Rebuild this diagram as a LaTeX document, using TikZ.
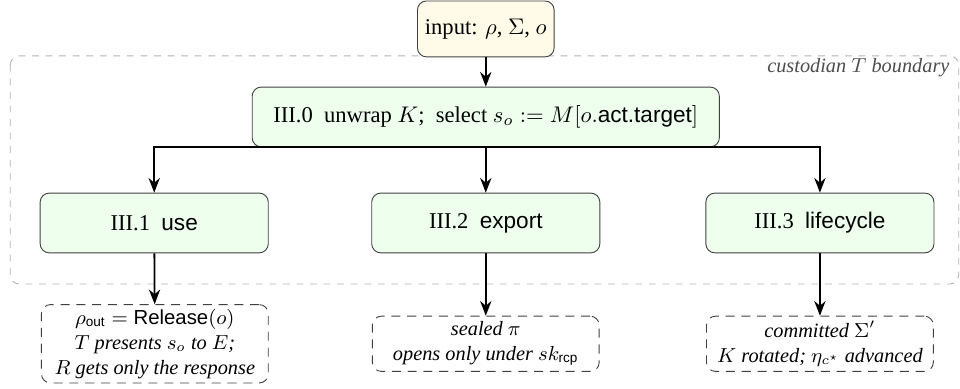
\documentclass[tikz,border=0pt]{standalone}
\usepackage[no-math]{fontspec}
\setmainfont{Liberation Serif}
\setsansfont{Liberation Sans}
\usepackage{amsmath}
\usepackage{amssymb}
\usepackage[usenames]{xcolor}
\usepackage{tikz}
\usetikzlibrary{positioning}
\usetikzlibrary{arrows.meta}
\definecolor{input_fill}{HTML}{FFFBE8}
\definecolor{step_fill}{HTML}{EEFFEE}
\newcommand{\upsf}[1]{\textup{\textsf{#1}}}
\tikzset{my_flow/.style={-{Stealth[length=6.5pt,width=5pt]},thick}}
\tikzset{input_box/.style={draw=black!75, fill=input_fill, rounded corners=4pt, minimum height=0.87cm, inner sep=3.3pt}}
\tikzset{step_box/.style={draw=black!75, fill=step_fill, rounded corners=4pt, minimum height=0.93cm}}
\tikzset{outcome_box/.style={draw=black!75, dash pattern=on 4pt off 3pt, rounded corners=4pt, minimum width=3.53cm, align=center, font=\small\itshape, inner sep=2pt}}
\tikzset{boundary_box/.style={draw=black!30, dash pattern=on 3pt off 3pt, rounded corners=4pt}}

\begin{document}
\begin{tikzpicture}
    \useasboundingbox (0,0) rectangle (14.94,-6.05);
    %\draw[help lines] (0,0) grid (15,-6);
    \draw[boundary_box] (0.16,-0.87) rectangle (14.92,-4.42);
    \node[anchor=east, text=black!70, font=\small\itshape] (bound) at (14.90,-1.06) {custodian $T$ boundary};

    \node[input_box] (in) at (7.56,-0.45) {input: $\rho$, $\Sigma$, $o$};
    \node[step_box, minimum width=7.27cm] (s0) at (7.56,-1.82)
        {III.0\enspace unwrap $K$;\enspace select $s_o := M[o.\upsf{act.target}]$};
    \node[step_box, minimum width=3.55cm] (s1) at (2.40,-3.47) {III.1\enspace\textsf{use}};
    \node[step_box, minimum width=3.55cm] (s2) at (7.56,-3.47) {III.2\enspace\textsf{export}};
    \node[step_box, minimum width=3.55cm] (s3) at (12.76,-3.47) {III.3\enspace\textsf{lifecycle}};

    \node[outcome_box, minimum height=1.2cm] (o1) at (2.41,-5.35)
        {\upshape$\rho_{\upsf{out}} = \upsf{Release}(o)$\\ $T$ presents $s_o$ to $E$;\\ $R$ gets only the response};
    \node[outcome_box, minimum height=0.86cm] (o2) at (7.56,-5.35)
        {sealed $\pi$\\ opens only under $sk_{\upsf{rcp}}$};
    \node[outcome_box, minimum height=0.86cm] (o3) at (12.76,-5.35)
        {committed $\Sigma'$\\ $K$ rotated; $\eta_{c^\star}$ advanced};

    \draw[my_flow] (in) -- (s0);
    \draw[my_flow] (s0.south) -| (s1.north);
    \draw[my_flow] (s0.south) -- (s2.north);
    \draw[my_flow] (s0.south) -| (s3.north);
    \draw[my_flow] (s1) -- (o1);
    \draw[my_flow] (s2) -- (o2);
    \draw[my_flow] (s3) -- (o3);
\end{tikzpicture}
\end{document}
